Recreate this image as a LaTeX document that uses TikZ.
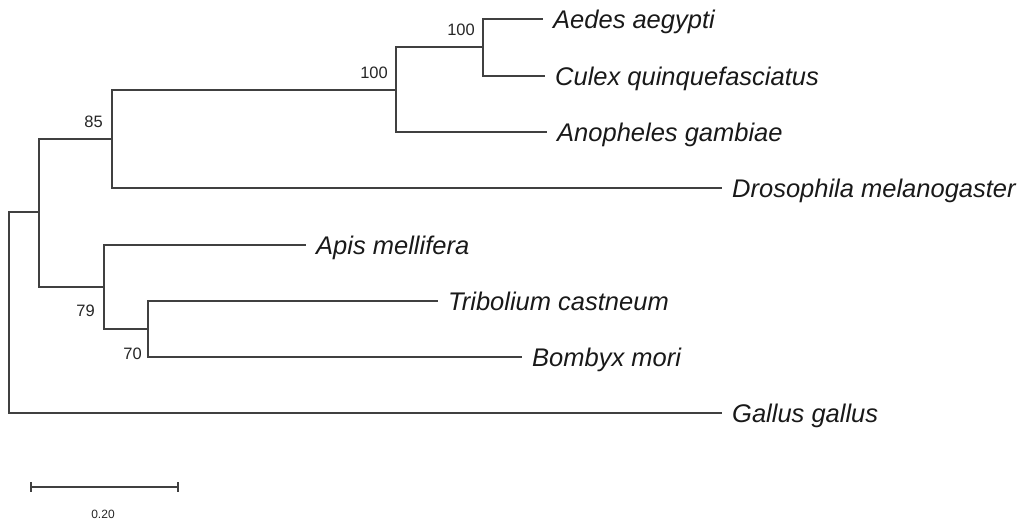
\documentclass[tikz,border=0pt]{standalone}
\usepackage{fontspec}
\setmainfont{Liberation Sans}
\usetikzlibrary{calc}
\tikzset{
  branch/.style={draw=black!75, line width=1.6pt, line cap=rect},
  leaf/.style={anchor=west, inner xsep=11pt, inner ysep=0pt, text height=18.3pt, text depth=0pt,
    font=\fontsize{25.5pt}{28pt}\selectfont\itshape, text=black!90},
  boot/.style={anchor=base east, inner sep=0pt, font=\fontsize{16.5pt}{18pt}\selectfont, text=black!85},
  scalelbl/.style={inner sep=0pt, font=\fontsize{12pt}{14pt}\selectfont, text=black!85}
}
\begin{document}
\begin{tikzpicture}[x=1pt,y=-1pt]
\useasboundingbox (0,0) rectangle (1032,523);
% internal nodes (x of vertical line, y of stem)
\coordinate (R) at (9,212);
\coordinate (A) at (39,212);
\coordinate (U) at (112,139);
\coordinate (M) at (396,90);
\coordinate (C) at (483,47);
\coordinate (L) at (104,287);
\coordinate (T) at (148,329);
% leaves
\node[leaf] (aedes) at (542,19) {Aedes aegypti};
\node[leaf] (culex) at (544,76) {Culex quinquefasciatus};
\node[leaf] (anoph) at (546,132) {Anopheles gambiae};
\node[leaf] (dros) at (721,188) {Drosophila melanogaster};
\node[leaf] (apis) at (305,245) {Apis mellifera};
\node[leaf] (trib) at (437,301) {Tribolium castneum};
\node[leaf] (bomb) at (521,357) {Bombyx mori};
\node[leaf] (gall) at (721,413) {Gallus gallus};
% branches
\draw[branch] (A) -| (R) |- (gall.west);
\draw[branch] (U) -| (A) |- (L);
\draw[branch] (M) -| (U) |- (dros.west);
\draw[branch] (C) -| (M) |- (anoph.west);
\draw[branch] (aedes.west) -| (C) |- (culex.west);
\draw[branch] (apis.west) -| (L) |- (T);
\draw[branch] (trib.west) -| (T) |- (bomb.west);
% bootstrap values
\node[boot] (bC) at ($(C)+(-8,-12)$) {100};
\node[boot] (bM) at ($(M)+(-8,-12)$) {100};
\node[boot] (bU) at ($(U)+(-9,-12)$) {85};
\node[boot] (bL) at ($(L)+(-9,29)$) {79};
\node[boot] (bT) at ($(T)+(-6,30)$) {70};
% scale bar
\coordinate (s1) at (31,487);
\coordinate (s2) at (178,487);
\draw[branch, line width=1.3pt, line cap=butt] (s1) -- (s2);
\draw[branch, line width=1.3pt, line cap=butt] ($(s1)+(0,-5)$) -- ($(s1)+(0,5)$);
\draw[branch, line width=1.3pt, line cap=butt] ($(s2)+(0,-5)$) -- ($(s2)+(0,5)$);
\node[scalelbl] (slbl) at (103,514) {0.20};
\end{tikzpicture}
\end{document}
